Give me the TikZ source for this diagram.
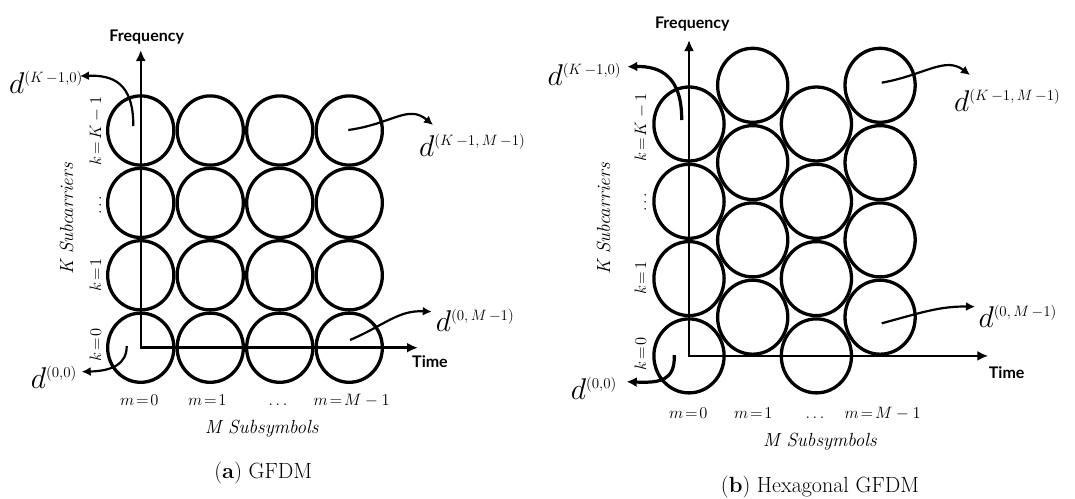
\documentclass[tikz,border=0pt]{standalone}
\usepackage{fix-cm}
\usepackage{fontspec}
\newfontfamily\latofont{Lato}
\usetikzlibrary{arrows.meta,shapes.geometric}
\newcommand\mylbl[1]{$\thickmuskip=2mu\relax #1$}
\begin{document}
\begin{tikzpicture}[x=1pt,y=-1pt,
  cellA/.style={ellipse,draw,line width=3.3pt,minimum width=66.2pt,minimum height=69.2pt,inner sep=0pt,outer sep=0pt},
  cellB/.style={ellipse,draw,line width=3.3pt,minimum width=70.2pt,minimum height=74pt,inner sep=0pt,outer sep=0pt},
  axis/.style={line width=2.5pt,{Latex[length=11pt,width=10pt]}-{Latex[length=11pt,width=10pt]}},
  ptr/.style={line width=2.2pt,-{Latex[length=9pt,width=9pt]}},
  ptrthick/.style={line width=3.2pt,-{Latex[length=10pt,width=10pt]}},
  dlab/.style={inner sep=0pt,anchor=base west,font=\fontsize{30}{32}\selectfont},
  axlab/.style={inner sep=0pt,anchor=base,font=\latofont\bfseries\fontsize{16}{18}\selectfont},
  idx/.style={inner sep=0pt,anchor=base,font=\fontsize{16.5}{18}\selectfont},
  sub/.style={inner sep=0pt,anchor=base,font=\fontsize{19}{21}\selectfont\itshape},
  captext/.style={inner sep=0pt,anchor=base,font=\fontsize{22}{24}\selectfont}]
\useasboundingbox (0,0) rectangle (1075,498);

% ---------------- (a) GFDM ----------------
\foreach \i/\x in {1/140.75,2/210.25,3/279.75,4/349.25}
  \foreach \j/\y in {1/130.5,2/202.9,3/275.3,4/347.7}
    \node[cellA] (a\i\j) at (\x,\y) {};
\coordinate (oa) at (140.75,347.7);
\coordinate (fa) at (140.75,50);
\coordinate (ta) at (418,347.7);
\draw[axis] (fa) -- (oa) -- (ta);
\node[axlab] (freqa) at (146.7,41.7) {Frequency};
\node[axlab] (timea) at (430,367.7) {Time};

\node[dlab] (da1) at (9,93) {$d^{\scriptscriptstyle(K\,{-}1,0)}$};
\node[dlab] (da2) at (419,156.7) {$d^{\scriptscriptstyle(K\,{-}1,\,M\,{-}1)}$};
\node[dlab] (da3) at (435.7,331.7) {$d^{\scriptscriptstyle(0,\,M\,{-}1)}$};
\node[dlab] (da4) at (30.7,388.3) {$d^{\scriptscriptstyle(0,0)}$};
\coordinate (sa1) at (133.3,126);   \coordinate (ea1) at (80,76);
\coordinate (sa2) at (348.3,130);   \coordinate (ea2) at (433,125);
\coordinate (sa3) at (350,340);     \coordinate (ea3) at (431.7,311.7);
\coordinate (sa4) at (126.7,346);   \coordinate (ea4) at (81.7,371.7);
\draw[ptr] (sa1) .. controls (133.5,82) and (112,75) .. (ea1);
\draw[ptr] (sa2) .. controls (392,124) and (408,104) .. (ea2);
\draw[ptr] (sa3) .. controls (385,325) and (398,310) .. (ea3);
\draw[ptr] (sa4) .. controls (127,364) and (112,371) .. (ea4);

\node[idx,rotate=90] (ka1) at (101,131) {\mylbl{k=K-1}};
\node[idx,rotate=90] (ka2) at (101,205) {$\ldots$};
\node[idx,rotate=90] (ka3) at (101,275) {\mylbl{k=1}};
\node[idx,rotate=90] (ka4) at (101,345) {\mylbl{k=0}};
\node[sub,rotate=90] (Ka) at (73,219) {K Subcarriers};

\node[idx] (ma1) at (139.3,405) {\mylbl{m=0}};
\node[idx] (ma2) at (207.3,405) {\mylbl{m=1}};
\node[idx] (ma3) at (278,405) {$\ldots$};
\node[idx] (ma4) at (351.7,405) {\mylbl{m=M-1}};
\node[sub] (Ma) at (261.7,433.3) {M Subsymbols};
\node[captext] (capa) at (263.3,478.3) {(\textbf{a}) GFDM};

% ---------------- (b) Hexagonal GFDM ----------------
\foreach \i/\x in {1/689,3/816.4}
  \foreach \j/\y in {1/124,2/201.3,3/278.6,4/355.9}
    \node[cellB] (b\i\j) at (\x,\y) {};
\foreach \i/\x in {2/752.7,4/880.1}
  \foreach \j/\y in {1/85.3,2/162.6,3/239.9,4/317.2}
    \node[cellB] (b\i\j) at (\x,\y) {};
\coordinate (ob) at (689,355.9);
\coordinate (fb) at (689,40);
\coordinate (tb) at (988.3,355.9);
\draw[axis] (fb) -- (ob) -- (tb);
\node[axlab] (freqb) at (692.3,28.3) {Frequency};
\node[axlab] (timeb) at (1006.7,378.3) {Time};

\node[dlab] (db1) at (547.3,85) {$d^{\scriptscriptstyle(K\,{-}1,0)}$};
\node[dlab] (db2) at (954,111.7) {$d^{\scriptscriptstyle(K\,{-}1,\,M\,{-}1)}$};
\node[dlab] (db3) at (978.3,327.3) {$d^{\scriptscriptstyle(0,\,M\,{-}1)}$};
\node[dlab] (db4) at (570.7,399.3) {$d^{\scriptscriptstyle(0,0)}$};
\coordinate (sb1) at (681.7,120);   \coordinate (eb1) at (627.3,66.7);
\coordinate (sb2) at (881.7,82.7);  \coordinate (eb2) at (970,75);
\coordinate (sb3) at (881.7,323.3); \coordinate (eb3) at (975,306.7);
\coordinate (sb4) at (674.3,355);   \coordinate (eb4) at (626.7,381.7);
\draw[ptrthick] (sb1) .. controls (682,76) and (660,66) .. (eb1);
\draw[ptr] (sb2) .. controls (925,75) and (945,56) .. (eb2);
\draw[ptr] (sb3) .. controls (920,313) and (940,306) .. (eb3);
\draw[ptrthick] (sb4) .. controls (675,381) and (660,383) .. (eb4);

\node[idx,rotate=90] (kb1) at (646,127.5) {\mylbl{k=K-1}};
\node[idx,rotate=90] (kb2) at (646,202) {$\ldots$};
\node[idx,rotate=90] (kb3) at (646,278.3) {\mylbl{k=1}};
\node[idx,rotate=90] (kb4) at (646,354) {\mylbl{k=0}};
\node[sub,rotate=90] (Kb) at (610,219) {K Subcarriers};

\node[idx] (mb1) at (688.3,418.3) {\mylbl{m=0}};
\node[idx] (mb2) at (753.3,418.3) {\mylbl{m=1}};
\node[idx] (mb3) at (815,418.3) {$\ldots$};
\node[idx] (mb4) at (882.7,418.3) {\mylbl{m=M-1}};
\node[sub] (Mb) at (820,446.7) {M Subsymbols};
\node[captext] (capb) at (820,492.3) {(\textbf{b}) Hexagonal GFDM};
\end{tikzpicture}
\end{document}
